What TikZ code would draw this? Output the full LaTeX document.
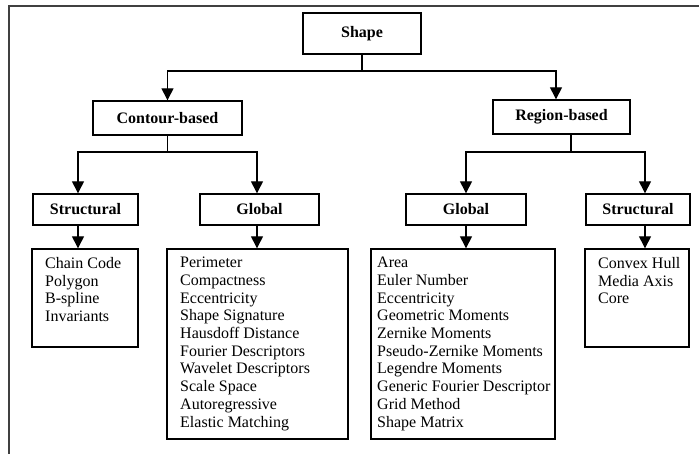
\documentclass[tikz,border=0pt]{standalone}
\usepackage{fontspec}
\setmainfont{Liberation Serif}
\usetikzlibrary{arrows.meta,calc}
\begin{document}
\begin{tikzpicture}[x=1pt,y=-1pt,
  box/.style={draw, line width=1.4pt, inner sep=0pt,
    font=\bfseries\fontsize{16}{18}\selectfont},
  leaf/.style={draw, line width=1.4pt, inner sep=0pt},
  items/.style={anchor=north west, inner sep=0pt, align=left,
    font=\fontsize{16}{17.7}\selectfont},
  link/.style={line width=1.4pt},
  arr/.style={link, -{Triangle[width=12pt,length=12pt]}}]
\useasboundingbox (0,0) rectangle (699,454);
% frame
\draw[line width=1.2pt, black!75] (9,454) -- (9,6) -- (699,6);

% category boxes
\node[box, minimum width=118pt, minimum height=41pt] (shape)   at (362,33.5) {Shape};
\node[box, minimum width=149pt, minimum height=34pt] (contour) at (167.5,118) {Contour-based};
\node[box, minimum width=137pt, minimum height=34pt] (region)  at (561.5,117) {Region-based};
\node[box, minimum width=105pt, minimum height=31pt] (structL) at (85.5,209.5) {Structural};
\node[box, minimum width=119pt, minimum height=31pt] (globalL) at (259.5,209.5) {Global};
\node[box, minimum width=120pt, minimum height=31pt] (globalR) at (466,209.5) {Global};
\node[box, minimum width=104pt, minimum height=31pt] (structR) at (638,209.5) {Structural};

% leaf boxes
\node[leaf, minimum width=106pt, minimum height=98pt]  (leafA) at (85,298) {};
\node[leaf, minimum width=181pt, minimum height=190pt] (leafB) at (257.5,344) {};
\node[leaf, minimum width=184pt, minimum height=190pt] (leafC) at (463,344) {};
\node[leaf, minimum width=104pt, minimum height=98pt]  (leafD) at (637,298) {};

% leaf contents
\node[items] (listA) at (45,257) {Chain Code\\Polygon\\B-spline\\Invariants};
\node[items] (listB) at (180,257) {Perimeter\\Compactness\\Eccentricity\\Shape Signature\\Hausdoff Distance\\Fourier Descriptors\\Wavelet Descriptors\\Scale Space\\Autoregressive\\Elastic Matching};
\node[items] (listC) at (377,257) {Area\\Euler Number\\Eccentricity\\Geometric Moments\\Zernike Moments\\Pseudo-Zernike Moments\\Legendre Moments\\Generic Fourier Descriptor\\Grid Method\\Shape Matrix};
\node[items] (listD) at (598,257) {Convex Hull\\Media Axis\\Core};

% level 1 connectors
\coordinate (busTop) at (0,71);
\draw[link] (shape.south) -- (shape.south |- busTop);
\draw[arr] (shape.south |- busTop) -| (contour.north);
\draw[arr] (shape.south |- busTop) -| ([xshift=-5.5pt]region.north);

% level 2 connectors
\coordinate (busMid) at (0,152);
\draw[link] (contour.south) -- (contour.south |- busMid);
\draw[arr] (contour.south |- busMid) -| ([xshift=-7.5pt]structL.north);
\draw[arr] (contour.south |- busMid) -| ([xshift=-2.5pt]globalL.north);
\draw[link] ([xshift=9.5pt]region.south) -- ([xshift=9.5pt]region.south |- busMid) coordinate (rj);
\draw[arr] (rj) -| (globalR.north);
\draw[arr] (rj) -| ([xshift=7pt]structR.north);

% level 3 connectors
\draw[arr] ([xshift=-7.5pt]structL.south) coordinate (a1) -- (a1 |- leafA.north);
\draw[arr] ([xshift=-2.5pt]globalL.south) coordinate (a2) -- (a2 |- leafB.north);
\draw[arr] (globalR.south) coordinate (a3) -- (a3 |- leafC.north);
\draw[arr] ([xshift=7pt]structR.south) coordinate (a4) -- (a4 |- leafD.north);
\end{tikzpicture}
\end{document}
